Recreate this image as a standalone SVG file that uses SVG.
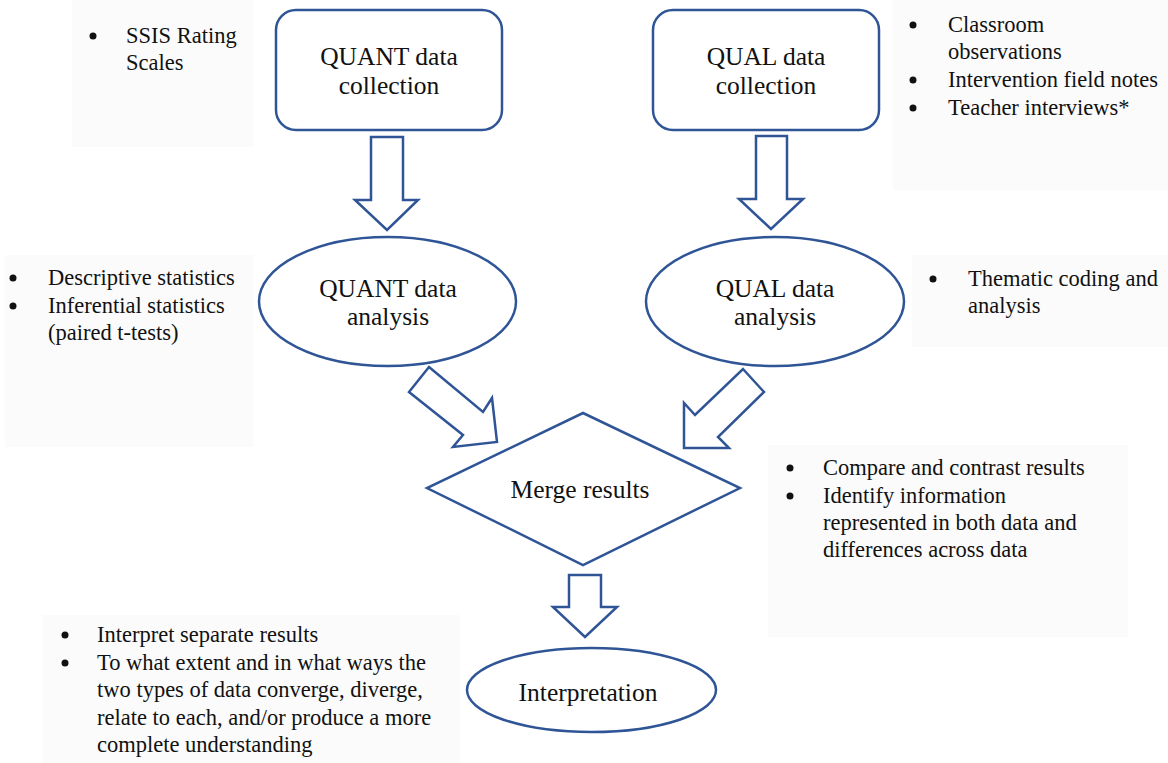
<svg xmlns="http://www.w3.org/2000/svg" width="1168" height="763" viewBox="0 0 1168 763">
<style>
.shape{fill:#ffffff;stroke:#2F5597;stroke-width:2.5;stroke-linejoin:miter}
.conn{fill:#ffffff;stroke:#2F5597;stroke-width:2.5;stroke-linejoin:miter}
.lbl{font-family:"Liberation Serif","Times New Roman",serif;font-size:25.5px;fill:#111111;text-anchor:middle}
.bul{font-family:"Liberation Serif","Times New Roman",serif;font-size:22.5px;fill:#111111}
.bg{fill:#fbfbfb}
</style>
<rect width="1168" height="763" fill="#ffffff"/>
<g id="bullet-backgrounds">
<rect class="bg" x="72" y="0" width="181" height="147"/>
<rect class="bg" x="893" y="0" width="275" height="190"/>
<rect class="bg" x="5" y="255" width="248" height="192"/>
<rect class="bg" x="912" y="255" width="256" height="92"/>
<rect class="bg" x="768" y="445" width="360" height="192"/>
<rect class="bg" x="43" y="615" width="417" height="148"/>
</g>
<g id="connectors">
<polygon class="conn" points="371,137 403,137 403,200 418,200 387,230 355,200 371,200"/>
<polygon class="conn" points="756,136 787,136 787,199 803,199 771,229 739,199 756,199"/>
<polygon class="conn" points="429,367 483,412 492,398 497,442 453,447 463,435 409,392"/>
<polygon class="conn" points="743,369 764,392 718,437 729,448 684,448 684,403 695,415"/>
<polygon class="conn" points="569,575 601,575 601,607 617,607 585,637 553,607 569,607"/>
</g>
<g id="quant-collection">
<rect class="shape" x="276" y="10" width="226" height="120" rx="20"/>
<text class="lbl" x="389" y="65">QUANT data</text>
<text class="lbl" x="389" y="94">collection</text>
</g>
<g id="qual-collection">
<rect class="shape" x="653" y="10" width="226" height="120" rx="20"/>
<text class="lbl" x="766" y="65">QUAL data</text>
<text class="lbl" x="766" y="94">collection</text>
</g>
<g id="quant-analysis">
<ellipse class="shape" cx="387.5" cy="301.5" rx="128.5" ry="64.5"/>
<text class="lbl" x="388" y="297">QUANT data</text>
<text class="lbl" x="388" y="325">analysis</text>
</g>
<g id="qual-analysis">
<ellipse class="shape" cx="775" cy="301.5" rx="129" ry="64.5"/>
<text class="lbl" x="775" y="297">QUAL data</text>
<text class="lbl" x="775" y="325">analysis</text>
</g>
<g id="merge">
<polygon class="shape" points="583,413 740,488 583,565 427,488"/>
<text class="lbl" x="580" y="498">Merge results</text>
</g>
<g id="interpretation">
<ellipse class="shape" cx="591.5" cy="690" rx="124.5" ry="42"/>
<text class="lbl" x="588" y="701">Interpretation</text>
</g>
<g id="notes-quant-collection">
<circle cx="93" cy="36" r="3.5" fill="#111"/>
<text class="bul" x="126" y="43">SSIS Rating</text>
<text class="bul" x="126" y="70">Scales</text>
</g>
<g id="notes-qual-collection">
<circle cx="913" cy="25" r="3.5" fill="#111"/>
<circle cx="913" cy="80" r="3.5" fill="#111"/>
<circle cx="913" cy="108" r="3.5" fill="#111"/>
<text class="bul" x="948" y="32">Classroom</text>
<text class="bul" x="948" y="59">observations</text>
<text class="bul" x="948" y="87">Intervention field notes</text>
<text class="bul" x="948" y="115">Teacher interviews*</text>
</g>
<g id="notes-quant-analysis">
<circle cx="13" cy="278" r="3.5" fill="#111"/>
<circle cx="13" cy="306" r="3.5" fill="#111"/>
<text class="bul" x="48" y="285">Descriptive statistics</text>
<text class="bul" x="48" y="313">Inferential statistics</text>
<text class="bul" x="48" y="340">(paired t-tests)</text>
</g>
<g id="notes-qual-analysis">
<circle cx="933" cy="279" r="3.5" fill="#111"/>
<text class="bul" x="968" y="286">Thematic coding and</text>
<text class="bul" x="968" y="313">analysis</text>
</g>
<g id="notes-merge">
<circle cx="790" cy="468" r="3.5" fill="#111"/>
<circle cx="790" cy="496" r="3.5" fill="#111"/>
<text class="bul" x="823" y="475">Compare and contrast results</text>
<text class="bul" x="823" y="503">Identify information</text>
<text class="bul" x="823" y="530">represented in both data and</text>
<text class="bul" x="823" y="557">differences across data</text>
</g>
<g id="notes-interpretation">
<circle cx="65" cy="635" r="3.5" fill="#111"/>
<circle cx="65" cy="663" r="3.5" fill="#111"/>
<text class="bul" x="97" y="642">Interpret separate results</text>
<text class="bul" x="97" y="670">To what extent and in what ways the</text>
<text class="bul" x="97" y="697">two types of data converge, diverge,</text>
<text class="bul" x="97" y="725">relate to each, and/or produce a more</text>
<text class="bul" x="97" y="752">complete understanding</text>
</g>
</svg>
